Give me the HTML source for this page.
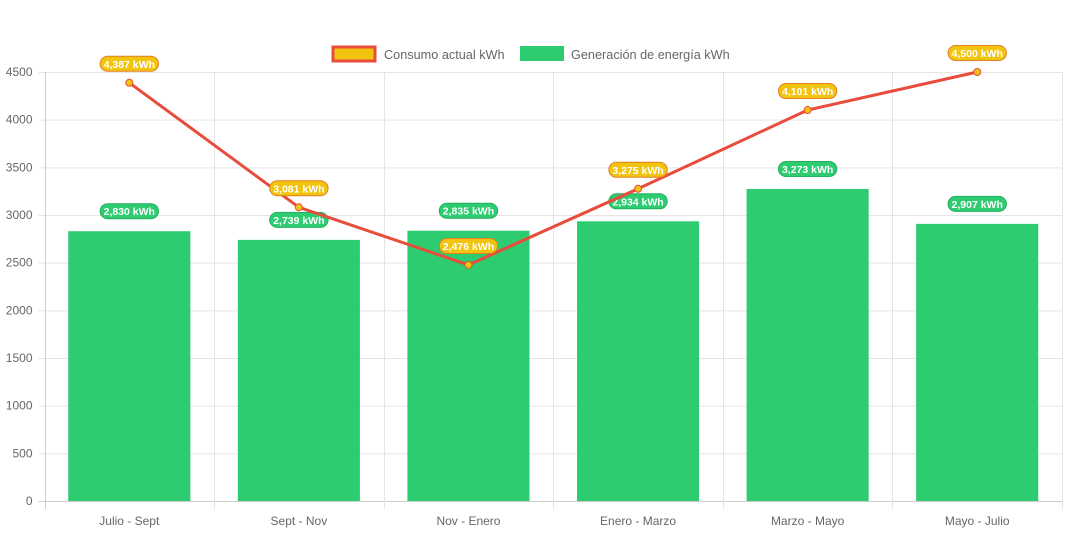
<!DOCTYPE html>
<html><head><meta charset="utf-8"><style>
body{margin:0;background:#fff;font-family:"Liberation Sans",sans-serif}
</style></head><body>
<svg id="c" width="1068" height="533" xmlns="http://www.w3.org/2000/svg" font-family="Liberation Sans, sans-serif"></svg>
<script>
const categories=["Julio - Sept","Sept - Nov","Nov - Enero","Enero - Marzo","Marzo - Mayo","Mayo - Julio"];
const consumo=[4387,3081,2476,3275,4101,4500];
const generacion=[2830,2739,2835,2934,3273,2907];
const yTicks=[0,500,1000,1500,2000,2500,3000,3500,4000,4500];
const svg=document.getElementById('c');
const NS='http://www.w3.org/2000/svg';
const L=44.5,R=1062,T=72,B=501,maxV=4500;
const cw=(R-L)/categories.length;
function y(v){return B-(v/maxV)*(B-T);}
function xc(i){return L+cw*(i+0.5);}
function mk(tag,at,p){const e=document.createElementNS(NS,tag);for(const k in at)e.setAttribute(k,at[k]);(p||svg).appendChild(e);return e;}
function fmt(v){return v.toLocaleString('en-US')+' kWh';}
yTicks.forEach(v=>{
  const g=mk('line',{x1:L-6,x2:R,y1:y(v)+0.5,y2:y(v)+0.5,stroke:v===0?'#ccc':'#e5e5e5'});
  
  
  const t=mk('text',{x:L-12,y:y(v)+4,'text-anchor':'end','font-size':12,fill:'#666'});
  t.textContent=v;
  
  
});
for(let i=0;i<=categories.length;i++){
  const x=Math.round(L+cw*i)+0.5;
  const g=mk('line',{x1:x,x2:x,y1:T,y2:B+8,stroke:i===0?'#ccc':'#e5e5e5'});
  
  
}
categories.forEach((c,i)=>{
  const t=mk('text',{x:xc(i),y:525,'text-anchor':'middle','font-size':12,fill:'#666'});
  t.textContent=c;
  
  
});
function pill(x,cy,txt,fill,stroke,name){
  const w=txt.length*5.6+8;
  const r=mk('rect',{x:x-w/2,y:cy-7.5,width:w,height:15,rx:7.5,fill:fill,stroke:stroke,'stroke-width':1});
  
  
  const t=mk('text',{x:x,y:cy+4,'text-anchor':'middle','font-size':10.5,'font-weight':'bold',fill:'#fff'});
  t.textContent=txt;
  
  
}
const bw=cw*0.72;
generacion.forEach((v,i)=>{
  const b=mk('rect',{x:xc(i)-bw/2,y:y(v),width:bw,height:B-y(v),fill:'#2ecc71'});
  
  
});
generacion.forEach((v,i)=>pill(xc(i),y(v)-20,fmt(v),'#2ecc71','#27ae60','bar-value-label'));
const pts=consumo.map((v,i)=>xc(i)+','+y(v)).join(' ');
const pl=mk('polyline',{points:pts,fill:'none',stroke:'#e74c3c','stroke-width':3});


consumo.forEach((v,i)=>{
  const c=mk('circle',{cx:xc(i),cy:y(v),r:3.5,fill:'#f1c40f',stroke:'#e74c3c','stroke-width':1});
  
  
});
consumo.forEach((v,i)=>pill(xc(i),y(v)-19,fmt(v),'#f1c40f','#e67e22','line-value-label'));
const lg=mk('g',{});


const s1=mk('rect',{x:333,y:47,width:42,height:14,fill:'#f1c40f',stroke:'#e74c3c','stroke-width':3},lg);


const t1=mk('text',{x:384,y:59,'font-size':12.7,fill:'#666'},lg);
t1.textContent='Consumo actual kWh';


const s2=mk('rect',{x:520,y:46,width:44,height:15,fill:'#2ecc71'},lg);


const t2=mk('text',{x:571,y:59,'font-size':12.7,fill:'#666'},lg);
t2.textContent='Generación de energía kWh';


</script>
</body></html>
